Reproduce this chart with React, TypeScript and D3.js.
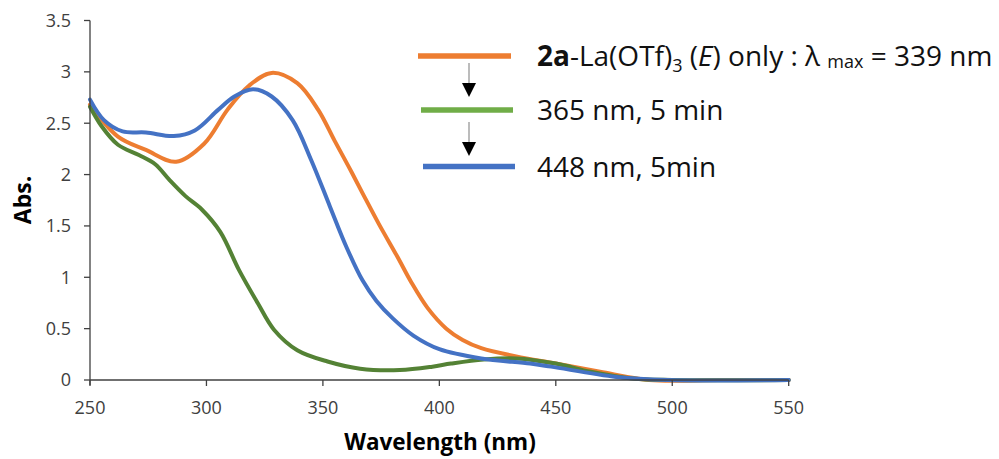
import React from 'react'
import { scaleLinear, line, curveCatmullRom } from 'd3'

// spectra (wavelength nm, absorbance)
const wlInitial = [250, 262, 274, 287, 299, 309, 318, 328, 339, 348, 355, 361, 367, 374, 382, 388, 395, 403, 410, 418, 433, 450, 469, 490, 520, 550]
const absInitial = [2.68, 2.37, 2.24, 2.125, 2.3, 2.63, 2.86, 2.99, 2.89, 2.63, 2.33, 2.08, 1.82, 1.52, 1.2, 0.95, 0.7, 0.5, 0.39, 0.31, 0.23, 0.16, 0.08, 0.0, 0.0, 0.0]

const wl365 = [250, 255, 262, 271, 278, 284, 291, 298, 306, 314, 322, 329, 339, 352, 366, 383, 397, 405, 419, 433, 450, 465, 483, 500, 550]
const abs365 = [2.66, 2.47, 2.29, 2.19, 2.1, 1.95, 1.79, 1.66, 1.44, 1.07, 0.75, 0.49, 0.29, 0.18, 0.11, 0.097, 0.13, 0.16, 0.2, 0.21, 0.16, 0.08, 0.015, 0.0, 0.0]

const wl448 = [250, 256, 264, 274, 286, 295, 305, 312, 320, 328, 337, 345, 353, 360, 367, 373, 380, 389, 400, 418, 439, 448, 476, 498, 550]
const abs448 = [2.73, 2.53, 2.42, 2.41, 2.375, 2.43, 2.63, 2.76, 2.83, 2.76, 2.53, 2.14, 1.69, 1.3, 0.97, 0.77, 0.6, 0.43, 0.3, 0.21, 0.16, 0.13, 0.03, 0.0, 0.0]

const xTicks = [250, 300, 350, 400, 450, 500, 550]
const yTicks = [0, 0.5, 1, 1.5, 2, 2.5, 3, 3.5]
const yTickLabels = ['0', '0.5', '1', '1.5', '2', '2.5', '3', '3.5']

const orange = '#ED7D31'
const green = '#548235'
const greenLegend = '#70AD47'
const blue = '#4472C4'
const axisColor = '#404040'
const font = "'Open Sans', 'Noto Sans', sans-serif"

export default function App() {
  const x = scaleLinear().domain([250, 550]).range([90, 788.7])
  const y = scaleLinear().domain([0, 3.5]).range([380, 20.5])

  const path = (wl: number[], abs: number[]) =>
    line<number>()
      .x((d, i) => x(wl[i]))
      .y(d => y(d))
      .curve(curveCatmullRom)(abs) || ''

  const series = [
    { wl: wlInitial, abs: absInitial, color: orange },
    { wl: wl365, abs: abs365, color: green },
    { wl: wl448, abs: abs448, color: blue },
  ]

  const legendX = 537
  const txt = 28

  return (
    <svg width={999} height={459} style={{ position: 'absolute', left: 0, top: 0, background: '#fff' }}
      fontFamily={font}>
      {/* curves */}
      {series.map((s, i) => (
        <path key={i} d={path(s.wl, s.abs)} fill="none" stroke={s.color} strokeWidth={4}
          strokeLinejoin="round" strokeLinecap="round" />
      ))}

      {/* axes */}
      <line x1={x(250)} x2={x(550)} y1={y(0)} y2={y(0)} stroke={axisColor} strokeWidth={1.3} />
      <line x1={x(250)} x2={x(250)} y1={y(3.5)} y2={y(0) + 5} stroke={axisColor} strokeWidth={1.3} />
      {xTicks.map(t => (
        <g key={t}>
          <line x1={x(t)} x2={x(t)} y1={y(0)} y2={y(0) + 6} stroke={axisColor} strokeWidth={1.3} />
          <text x={x(t)} y={y(0) + 34} textAnchor="middle" fontSize={18} fill={axisColor}>{t}</text>
        </g>
      ))}
      {yTicks.map((t, i) => (
        <g key={t}>
          <line x1={x(250) - 6} x2={x(250)} y1={y(t)} y2={y(t)} stroke={axisColor} strokeWidth={1.3} />
          <text x={71} y={y(t)} dy="0.35em" textAnchor="end" fontSize={18} fill={axisColor}>{yTickLabels[i]}</text>
        </g>
      ))}

      {/* axis titles */}
      <text x={440} y={450} textAnchor="middle" fontSize={22.5} fontWeight="bold" fill="#000">Wavelength (nm)</text>
      <text transform="translate(31,200) rotate(-90)" textAnchor="middle" fontSize={23} fontWeight="bold" fill="#000">Abs.</text>

      {/* legend */}
      <line x1={418} x2={511} y1={56} y2={56} stroke={orange} strokeWidth={5.5} />
      <line x1={421} x2={513} y1={110} y2={110} stroke={greenLegend} strokeWidth={5.5} />
      <line x1={423} x2={515} y1={166.5} y2={166.5} stroke={blue} strokeWidth={5.5} />

      <line x1={469} x2={469} y1={63} y2={84} stroke="#a6a6a6" strokeWidth={1.5} />
      <path d="M462,83 L476,83 L469,97 Z" fill="#000" />
      <line x1={469} x2={469} y1={122} y2={143} stroke="#a6a6a6" strokeWidth={1.5} />
      <path d="M462,142 L476,142 L469,156 Z" fill="#000" />

      <text x={legendX} y={66} fontSize={txt} fill="#111">
        <tspan fontWeight="bold">2a</tspan>
        <tspan>-La(OTf)</tspan>
        <tspan fontSize={18} dy={6}>3</tspan>
        <tspan dy={-6}>{' ('}</tspan>
        <tspan fontStyle="italic">E</tspan>
        <tspan>{') only : λ '}</tspan>
        <tspan fontSize={18} dy={2}>max</tspan>
        <tspan dy={-2}>{' = 339 nm'}</tspan>
      </text>
      <text x={legendX} y={120} fontSize={txt} fill="#111">365 nm, 5 min</text>
      <text x={legendX} y={176.5} fontSize={txt} fill="#111">448 nm, 5min</text>
    </svg>
  )
}
